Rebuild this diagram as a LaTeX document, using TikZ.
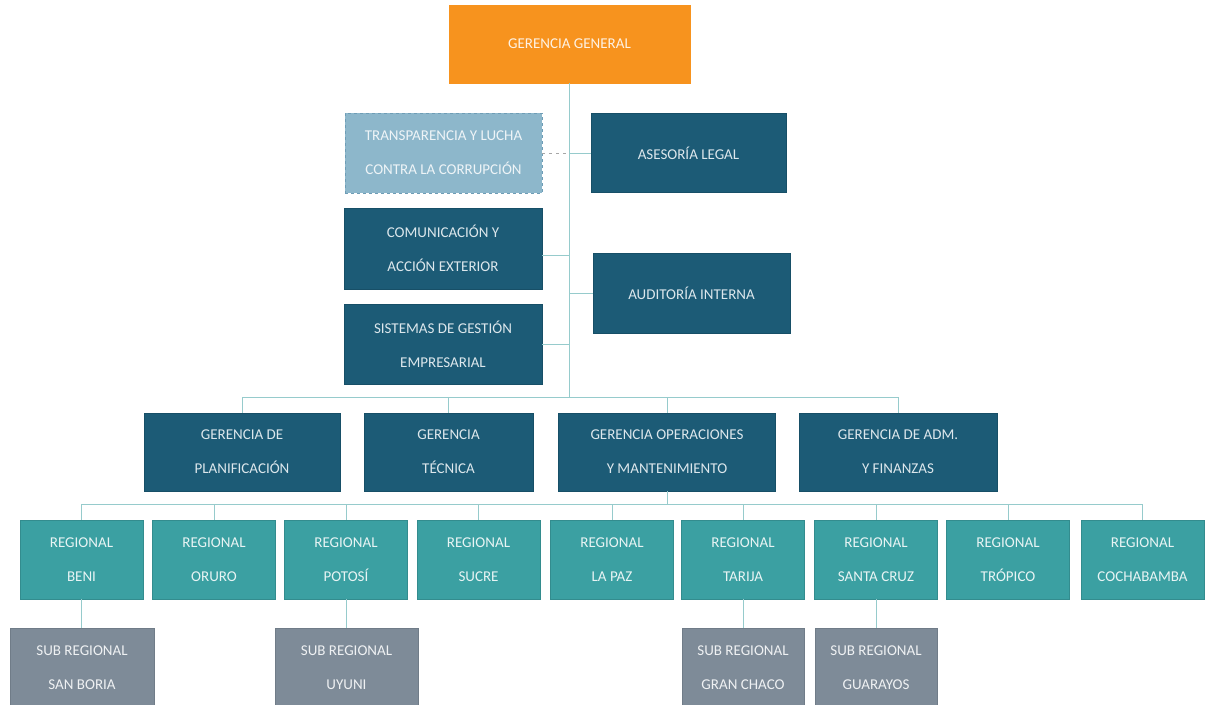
\documentclass[tikz,border=0pt]{standalone}
\usepackage{fontspec}
\setmainfont{Carlito}
\definecolor{cOrange}{HTML}{F7931E}
\definecolor{cDark}{HTML}{1C5B76}
\definecolor{cDarkB}{HTML}{174F67}
\definecolor{cLight}{HTML}{8DB7CB}
\definecolor{cLightB}{HTML}{6E9DB6}
\definecolor{cTeal}{HTML}{3BA0A2}
\definecolor{cTealB}{HTML}{338C8E}
\definecolor{cGray}{HTML}{7E8B98}
\definecolor{cGrayB}{HTML}{707C88}
\definecolor{cLine}{HTML}{96CBCC}
\definecolor{cTxt}{HTML}{DCE7EC}
\tikzset{
  box/.style={rectangle, inner sep=0pt, align=center, text=cTxt,
    font=\fontsize{15}{34}\selectfont, line width=0.8pt},
  orangebox/.style={box, fill=cOrange, draw=cOrange, text=white!88!cOrange},
  darkbox/.style={box, fill=cDark, draw=cDarkB},
  lightbox/.style={box, fill=cLight, draw=cLightB, dashed, text=white!85!cLight},
  tealbox/.style={box, fill=cTeal, draw=cTealB, text=white!88!cTeal},
  graybox/.style={box, fill=cGray, draw=cGrayB, text=white!88!cGray},
  conn/.style={draw=cLine, line width=1pt},
  dotconn/.style={draw=gray!70, line width=1pt, dash pattern=on 3pt off 4pt},
}
\begin{document}
\begin{tikzpicture}[x=1pt,y=-1pt]
\useasboundingbox (0,0) rectangle (1207,704);
\clip (0,0) rectangle (1207,704);
% top
\node[orangebox, minimum width=241, minimum height=78] (gg) at (569.5,44) {GERENCIA GENERAL};
\node[lightbox, minimum width=197, minimum height=80] (tr) at (443.5,153) {TRANSPARENCIA Y LUCHA\\CONTRA LA CORRUPCIÓN};
\node[darkbox, minimum width=195, minimum height=79] (al) at (688.5,153) {ASESORÍA LEGAL};
\node[darkbox, minimum width=198, minimum height=81] (co) at (443,248.5) {COMUNICACIÓN Y\\ACCIÓN EXTERIOR};
\node[darkbox, minimum width=197, minimum height=80] (ai) at (691.5,293) {AUDITORÍA INTERNA};
\node[darkbox, minimum width=198, minimum height=80] (si) at (443,344) {SISTEMAS DE GESTIÓN\\EMPRESARIAL};
% level 2
\node[darkbox, minimum width=196, minimum height=78] (pl) at (242,452) {GERENCIA DE\\PLANIFICACIÓN};
\node[darkbox, minimum width=169, minimum height=78] (te) at (448.5,452) {GERENCIA\\TÉCNICA};
\node[darkbox, minimum width=217, minimum height=78] (op) at (667,452) {GERENCIA OPERACIONES\\Y MANTENIMIENTO};
\node[darkbox, minimum width=198, minimum height=78] (ad) at (898,452) {GERENCIA DE ADM.\\Y FINANZAS};
% regionals
\foreach \n/\x/\t in {beni/81.5/BENI, oruro/214/ORURO, potosi/346/POTOSÍ, sucre/478.5/SUCRE, lapaz/612/LA PAZ, tarija/743/TARIJA, scz/876/SANTA CRUZ, tropico/1008/TRÓPICO, cbba/1142.5/COCHABAMBA}
  \node[tealbox, minimum width=123, minimum height=79] (\n) at (\x,559.5) {REGIONAL\\\t};
% sub regionals
\node[graybox, minimum width=144, minimum height=80] (sb) at (82,668) {SUB REGIONAL\\SAN BORIA};
\node[graybox, minimum width=143, minimum height=80] (uy) at (346.5,668) {SUB REGIONAL\\UYUNI};
\node[graybox, minimum width=122, minimum height=80] (gc) at (743,668) {SUB REGIONAL\\GRAN CHACO};
\node[graybox, minimum width=122, minimum height=80] (gu) at (876,668) {SUB REGIONAL\\GUARAYOS};
% connectors
\coordinate (busL) at (569,397);
\draw[conn] (gg.south -| busL) -- (busL);
\draw[dotconn] (tr.east) -- (569,153);
\draw[conn] (569,153) -- (al.west);
\draw[conn] (co.east |- 0,255) -- (569,255);
\draw[conn] (569,293) -- (ai.west);
\draw[conn] (si.east) -- (569,344);
\draw[conn] (pl.north |- busL) -- (ad.north |- busL);
\foreach \n in {pl,te,op,ad} \draw[conn] (\n.north |- busL) -- (\n.north);
\coordinate (busR) at (667,504);
\draw[conn] (op.south) -- (busR);
\draw[conn] (beni.north |- busR) -- (cbba.north |- busR);
\foreach \n in {beni,oruro,potosi,sucre,lapaz,tarija,scz,tropico,cbba} \draw[conn] (\n.north |- busR) -- (\n.north);
\draw[conn] (beni.south) -- (beni.south |- sb.north);
\draw[conn] (potosi.south) -- (potosi.south |- uy.north);
\draw[conn] (tarija.south) -- (gc.north);
\draw[conn] (scz.south) -- (gu.north);
\end{tikzpicture}
\end{document}
